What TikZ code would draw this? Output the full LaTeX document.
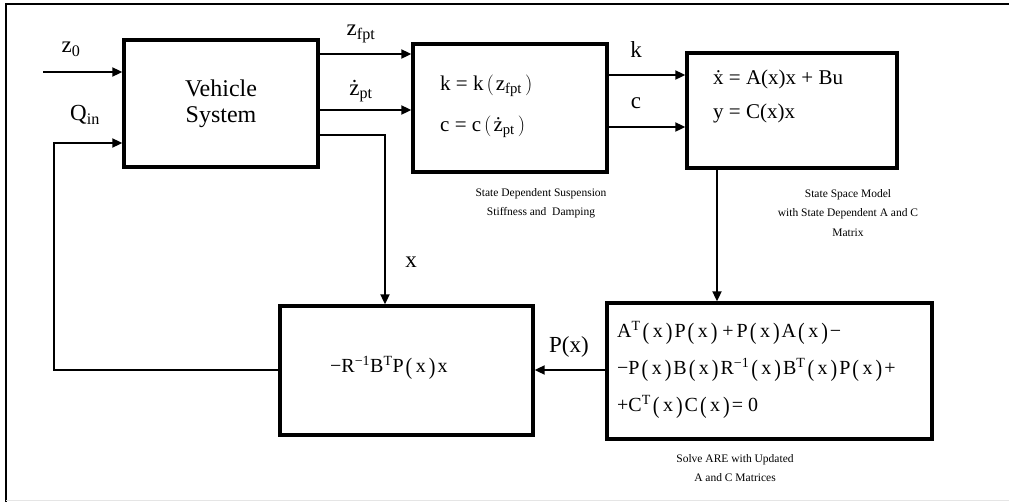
\documentclass[tikz,border=0pt]{standalone}
\usepackage{fontspec}
\setmainfont{Liberation Serif}
\usetikzlibrary{arrows.meta}
\newcommand\pl{\raisebox{-0.1em}{\scalebox{1}[1.18]{(}}}
\newcommand\pr{\raisebox{-0.1em}{\scalebox{1}[1.18]{)}}}
\newcommand\PX{\kern2pt\pl\kern3.5pt x\kern3pt\pr\kern2pt}
\newcommand\op[1]{\kern3pt#1\kern3pt}
\begin{document}
\begin{tikzpicture}[x=1pt,y=-1pt,
  blk/.style={draw,line width=3.3pt,minimum width=#1,inner sep=0pt},
  lbl/.style={inner sep=0pt,font=\fontsize{23}{27}\selectfont},
  eqn/.style={inner sep=0pt,anchor=west,font=\fontsize{21}{25}\selectfont},
  captxt/.style={inner sep=0pt,align=center,font=\fontsize{11.5}{19.5}\selectfont},
  arr/.style={line width=1.8pt,-{Triangle[length=10pt,width=9pt]}},
  ln/.style={line width=1.8pt}]
\useasboundingbox (0,0) rectangle (1009,501);
% frame
\draw[line width=2.6pt] (6,502) -- (6,4) -- (1010,4);
\draw[gray!20,line width=1pt] (6,500.5) -- (1009,500.5);
% blocks
\node[blk=194pt,minimum height=127pt,align=center,font=\fontsize{24}{26}\selectfont] (veh) at (221,103.5) {Vehicle\\System};
\node[blk=194pt,minimum height=128pt] (kc) at (510,108) {};
\node[blk=210pt,minimum height=115pt] (ss) at (792,110.5) {};
\node[blk=325pt,minimum height=136pt] (are) at (769.5,371) {};
\node[blk=253pt,minimum height=129pt] (rb) at (406.5,370.5) {};
% texts in blocks
\node[eqn] (kq) at (440,86) {k = k\kern3pt\big(\kern2pt z\textsubscript{fpt}\kern3pt\big)};
\node[eqn] (cq) at (440,127) {c = c\kern3pt\big(\kern2pt ż\textsubscript{pt}\kern3pt\big)};
\node[eqn] (xq) at (713,79) {ẋ = A(x)x + Bu};
\node[eqn] (yq) at (713,113) {y = C(x)x};
\node[eqn,font=\fontsize{20}{24}\selectfont] (a1) at (617,333) {A\textsuperscript{T}\PX P\PX\op{+}P\PX A\PX−};
\node[eqn,font=\fontsize{20}{24}\selectfont] (a2) at (617,370) {−P\PX B\PX R\textsuperscript{−1}\PX B\textsuperscript{T}\PX P\PX+};
\node[eqn,font=\fontsize{20}{24}\selectfont] (a3) at (617,407) {+C\textsuperscript{T}\PX C\PX = 0};
\node[eqn,font=\fontsize{20}{24}\selectfont] (rq) at (330,368) {−R\textsuperscript{−1}B\textsuperscript{T}P\PX x};
% captions
\node[captxt] (kcc) at (541,203) {State Dependent Suspension\\Stiffness and\ \ Damping};
\node[captxt] (ssc) at (848,213) {State Space Model\\with State Dependent A and C\\Matrix};
\node[captxt] (arec) at (735,468) {Solve ARE with Updated\\A and C Matrices};
% labels
\node[lbl] (lz0) at (71,49) {z\textsubscript{0}};
\node[lbl] (lq) at (85,115) {Q\textsubscript{in}};
\node[lbl] (lzf) at (361,34) {z\textsubscript{fpt}};
\node[lbl] (lzd) at (361,91) {ż\textsubscript{pt}};
\node[lbl] (lk) at (636,50) {k};
\node[lbl] (lc) at (636,103) {c};
\node[lbl] (lx) at (411,262) {x};
\node[lbl] (lp) at (569,347) {P(x)};
% connectors
\coordinate (z0s) at (43,72);
\coordinate (fbx) at (54,370);
\coordinate (xc) at (385,135);
\draw[arr] (z0s) -- (z0s -| veh.west);
\draw[arr] (rb.west |- fbx) -- (fbx) -- (fbx |- 0,143) -- (veh.west |- 0,143);
\draw[arr] (veh.east |- 0,54) -- (kc.west |- 0,54);
\draw[arr] (veh.east |- 0,110) -- (kc.west |- 0,110);
\draw[arr] (veh.east |- xc) -- (xc) -- (xc |- rb.north);
\draw[arr] (kc.east |- 0,75) -- (ss.west |- 0,75);
\draw[arr] (kc.east |- 0,127) -- (ss.west |- 0,127);
\draw[arr] (ss.south -| 717,0) -- (are.north -| 717,0);
\draw[arr] (are.west |- 0,370) -- (rb.east |- 0,370);
\end{tikzpicture}
\end{document}
